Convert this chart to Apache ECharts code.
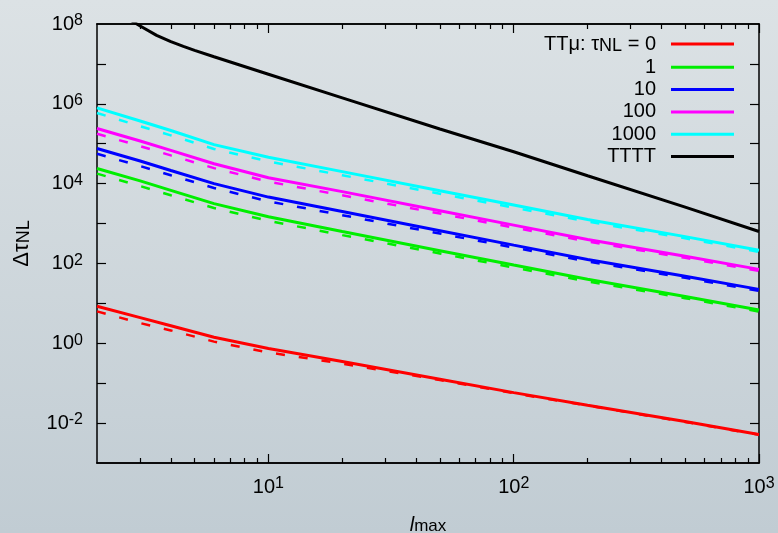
<!DOCTYPE html>
<html>
<head>
<meta charset="utf-8">
<script src="https://cdn.jsdelivr.net/npm/echarts@6/dist/echarts.min.js"></script>
<style>
  html, body { margin: 0; padding: 0; }
  #charts { width: 778px; height: 533px; }
</style>
</head>
<body>
<div id="charts"></div>
<script>
// l_max values where the curves were read
const ell = [2, 3, 4, 6, 10, 20, 50, 100, 200, 500, 1000];
const ellBlack = [2, 3, 3.5, 4, 4.5, 5, 6, 10, 20, 50, 100, 200, 500, 1000];

const legendNames = ['TTμ: τNL = 0', '1', '10', '100', '1000', 'TTTT'];
const colors = ['#ff0000', '#00ee00', '#0000ff', '#ff00ff', '#00ffff', '#000000'];

// solid curves
const tau0 = [8.5, 4.4, 2.75, 1.41, 0.74, 0.35, 0.126, 0.058, 0.028, 0.011, 0.0052];
const tau1 = [2.4e4, 1.17e4, 6.8e3, 3.16e3, 1.48e3, 631, 209, 91, 40, 14.8, 6.8];
const tau10 = [7.6e4, 3.7e4, 2.14e4, 1.0e4, 4.6e3, 2.0e3, 661, 288, 126, 48, 22.4];
const tau100 = [2.4e5, 1.17e5, 6.8e4, 3.16e4, 1.41e4, 6.3e3, 2.1e3, 912, 398, 151, 71];
const tau1000 = [7.9e5, 3.7e5, 2.14e5, 9.5e4, 4.6e4, 2.0e4, 6.6e3, 2.9e3, 1.26e3, 470, 214];
const tttt = [4.0e8, 8.9e7, 5.2e7, 3.6e7, 2.75e7, 2.19e7, 1.51e7, 5.5e6, 1.41e6, 2.34e5, 6.3e4, 1.58e4, 2.57e3, 631];

// dashed curves
const tau0d = [6.3, 3.2, 2.1, 1.1, 0.59, 0.31, 0.12, 0.056, 0.0275, 0.0107, 0.0051];
const tau1d = [1.78e4, 8.7e3, 5.1e3, 2.45e3, 1.17e3, 513, 178, 79, 35.5, 13.5, 6.2];
const tau10d = [5.6e4, 2.75e4, 1.62e4, 7.8e3, 3.6e3, 1.62e3, 562, 251, 112, 43.7, 20.4];
const tau100d = [1.78e5, 8.7e4, 5.1e4, 2.45e4, 1.12e4, 5.1e3, 1.78e3, 794, 355, 138, 65];
const tau1000d = [5.9e5, 2.75e5, 1.62e5, 7.4e4, 3.6e4, 1.62e4, 5.6e3, 2.5e3, 1.12e3, 427, 195];

// tick positions
const xMajor = [10, 100, 1000];
const xMinor = [3, 4, 5, 6, 7, 8, 9, 20, 30, 40, 50, 60, 70, 80, 90, 200, 300, 400, 500, 600, 700, 800, 900];
const yTicks = [1e-2, 1e-1, 1, 10, 1e2, 1e3, 1e4, 1e5, 1e6, 1e7];
const yLabels = [1e-2, 1, 1e2, 1e4, 1e6, 1e8];

const solid = [tau0, tau1, tau10, tau100, tau1000];
const dashed = [tau0d, tau1d, tau10d, tau100d, tau1000d];

const font = 'Liberation Sans';
const pow10 = function (v) {
    const e = Math.round(Math.log10(v));
    return '{b|10}{s|' + e + '}';
};
const powRich = {
    b: { fontSize: 20, lineHeight: 22, fontFamily: font, color: '#000' },
    s: { fontSize: 16, lineHeight: 8, verticalAlign: 'top', fontFamily: font, color: '#000' }
};

function xAxisDef(position, ticks, len, withLabel) {
    return {
        type: 'log',
        logBase: 10,
        min: 2,
        max: 1000,
        position: position,
        axisLine: { show: true, lineStyle: { color: '#000', width: 1.5 } },
        axisTick: { show: true, inside: true, length: len, customValues: ticks, lineStyle: { color: '#000', width: 1.2 } },
        axisLabel: withLabel ? { show: true, customValues: xMajor, margin: 13, formatter: pow10, rich: powRich } : { show: false },
        splitLine: { show: false },
        minorTick: { show: false }
    };
}

function yAxisDef(position, withLabel) {
    return {
        type: 'log',
        logBase: 10,
        min: 1e-3,
        max: 1e8,
        position: position,
        axisLine: { show: true, lineStyle: { color: '#000', width: 1.5 } },
        axisTick: { show: true, inside: true, length: 9, customValues: yTicks, lineStyle: { color: '#000', width: 1.2 } },
        axisLabel: withLabel ? { show: true, customValues: yLabels, margin: 14, formatter: pow10, rich: powRich } : { show: false },
        splitLine: { show: false },
        minorTick: { show: false }
    };
}

const xAxes = [
    xAxisDef('bottom', xMajor, 9, true),
    xAxisDef('bottom', xMinor, 5, false),
    xAxisDef('top', xMajor, 9, false),
    xAxisDef('top', xMinor, 5, false)
];
xAxes[0].name = '{i|l}{sub|max}';
xAxes[0].nameLocation = 'middle';
xAxes[0].nameGap = 52;
xAxes[0].nameTextStyle = {
    rich: {
        i: { fontSize: 20, lineHeight: 20, fontStyle: 'italic', fontFamily: font, color: '#000' },
        sub: { fontSize: 17, lineHeight: 14, verticalAlign: 'bottom', fontFamily: font, color: '#000' }
    }
};

const yAxes = [yAxisDef('left', true), yAxisDef('right', false)];
yAxes[0].name = '{d|Δτ}{sub|NL}';
yAxes[0].nameLocation = 'middle';
yAxes[0].nameRotate = 90;
yAxes[0].nameGap = 64;
yAxes[0].nameTextStyle = {
    rich: {
        d: { fontSize: 22, lineHeight: 22, fontFamily: font, color: '#000' },
        sub: { fontSize: 18, lineHeight: 10, verticalAlign: 'bottom', fontFamily: font, color: '#000' }
    }
};

function lineSeries(name, xs, vals, color, width, type, z) {
    return {
        name: name,
        type: 'line',
        data: xs.map(function (l, k) { return [l, vals[k]]; }),
        showSymbol: false,
        symbol: 'none',
        clip: true,
        color: color,
        lineStyle: { width: width, color: color, type: type },
        z: z
    };
}

const series = [];
solid.forEach(function (vals, i) {
    series.push(lineSeries(legendNames[i], ell, vals, colors[i], 3, 'solid', 3));
});
series.push(lineSeries(legendNames[5], ellBlack, tttt, colors[5], 3, 'solid', 3));
dashed.forEach(function (vals, i) {
    series.push(lineSeries(legendNames[i] + ' (dashed)', ell, vals, colors[i], 2.5, [9, 14], 2));
});

const option = {
    animation: false,
    backgroundColor: new echarts.graphic.LinearGradient(0, 0, 0, 1, [
        { offset: 0, color: '#dce2e5' },
        { offset: 1, color: '#c1ccd3' }
    ]),
    grid: { left: 97, right: 19, top: 24, bottom: 70, containLabel: false, outerBoundsMode: 'none' },
    legend: {
        data: legendNames,
        orient: 'vertical',
        right: 44,
        top: 34,
        padding: 0,
        align: 'right',
        icon: 'rect',
        itemWidth: 63,
        itemHeight: 3,
        itemGap: 2.3,
        selectedMode: false,
        formatter: function (name) {
            if (name === legendNames[0]) return '{t|TTμ: τ}{sub|NL}{t| = 0}';
            return '{t|' + name + '}';
        },
        textStyle: {
            padding: [0, 10, 0, 0],
            rich: {
                t: { fontSize: 20, lineHeight: 22, fontFamily: font, color: '#000' },
                sub: { fontSize: 18, lineHeight: 10, verticalAlign: 'bottom', fontFamily: font, color: '#000' }
            }
        }
    },
    xAxis: xAxes,
    yAxis: yAxes,
    series: series
};

const chart = echarts.init(document.getElementById('charts'));
chart.setOption(option);
</script>
</body>
</html>
